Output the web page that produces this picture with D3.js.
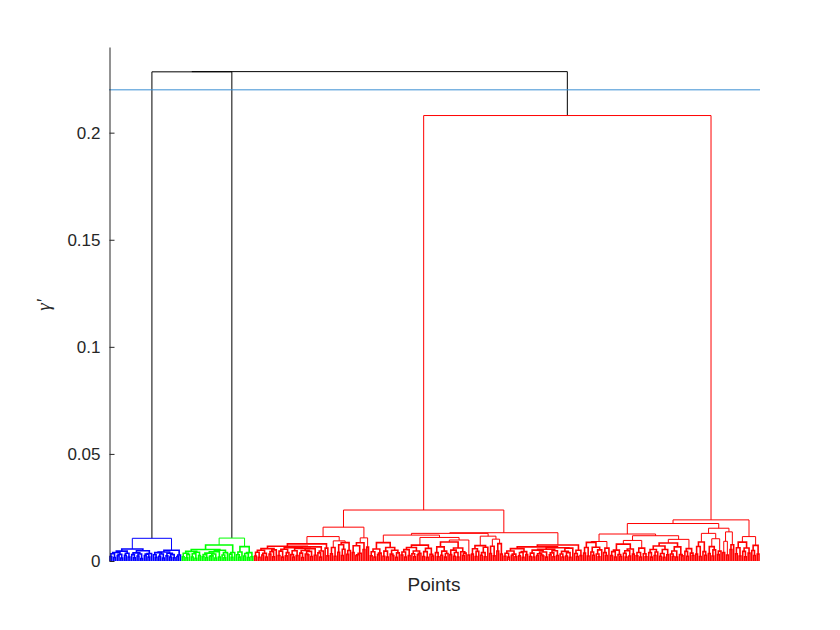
<!DOCTYPE html>
<html>
<head>
<meta charset="utf-8">
<script src="https://cdn.jsdelivr.net/npm/d3@7"></script>
<style>
  html, body { margin: 0; padding: 0; background: #fff; }
  svg { display: block; }
  text { font-family: "Liberation Sans", Arial, Helvetica, sans-serif; fill: #262626; }
</style>
</head>
<body>
<svg id="chart" width="840" height="630"></svg>
<script>
// ---- DATA: merge heights between adjacent leaves (leaf order), in units of 0.001 ----
const blueGaps = [2.1,3.4,1.6,4.0,2.5,3.1,1.4,4.6,2.7,3.6,1.9,5.6,3.0,1.5,3.8,2.3,3.3,1.2,4.8,2.6,3.2,1.8,3.5,
  10.6,
  2.9,1.7,3.9,2.2,3.3,1.4,4.2,2.4,3.6,1.9,3.0,1.5,5.0,2.1,2.8];
const greenGaps = [2.0,3.6,1.5,3.1,4.5,1.9,3.4,1.3,4.1,2.6,5.4,2.0,3.0,1.6,3.7,2.2,2.4,3.3,1.4,4.3,1.9,5.0,2.8,1.5,3.9,7.5,3.2,1.7,4.0,
  10.7,
  2.9,1.8,4.2,6.7,2.3,3.5,1.6,3.9,2.0];
const redLeftGaps = [
  2.3,4.1,1.7,5.0,2.8,3.6,1.9,5.8,3.2,4.4,2.0,5.2,6.9,2.6,4.6,1.8,5.5,2.4,3.9,6.2,3.0,1.9,4.8,2.5,5.9,3.7,1.6,4.9,3.3,2.9,4.5,2.1,5.7,2.7,6.6,3.8,1.8,4.7,8.0,6.0,2.4,
  11.4,
  3.4,6.3,2.2,9.4,4.1,7.6,2.6,5.5,8.6,3.1,4.9,
  15.8,
  4.0,7.1,2.5,2.9,3.6,8.5,5.4,10.8,6.5,
  23.8,
  2.4,4.3,1.8,5.6,3.0,3.7,8.6,2.2,4.6,1.9,6.3,3.2,2.5,5.0,1.7,3.8,
  12.1,
  2.8,4.2,1.9,5.3,2.5,6.3,3.4,2.0,4.7,2.9,3.6,7.4,2.1,4.4,1.7,5.9,3.1,2.3,11.0,3.9,2.0,6.6,2.7,4.6,1.8,3.5,8.9,3.0,5.1,2.2,4.0,1.9,6.1,4.3,2.6,3.7,9.8,2.8,
  12.9,
  3.2,5.7,2.1,4.5,7.2,2.7,3.9,2.0,6.4,11.6,3.5,6.9,2.4,10.2,4.7,8.1,3.3,
  13.2,
  2.2,3.6,1.8,4.7,2.7,3.2,2.0,5.8,2.4,4.0,1.7,4.4,3.0,6.6,2.1,3.7,1.9,5.1,2.6,3.4,2.8,2.3,4.2,1.8,5.5,2.9,3.8,2.0,4.8,2.6,6.2,3.3,1.9,4.5,2.3,3.9,1.7,6.0,7.5,3.5,2.1,5.0,2.5];
const redRightGaps = [
  3.7,6.3,2.3,8.7,4.2,2.7,6.4,3.3,2.0,5.2,9.1,3.9,2.6,6.0,
  12.6,
  2.5,4.4,1.9,5.1,3.0,2.1,7.9,3.6,1.8,4.8,2.3,5.6,3.2,9.6,2.4,4.0,1.9,6.0,3.4,2.0,
  11.8,
  3.9,1.8,5.4,2.6,4.2,7.0,2.2,3.5,1.7,5.4,2.9,8.4,3.3,2.1,4.7,1.9,6.6,3.0,2.4,10.1,4.5,2.2,5.8,3.7,2.6,
  17.5,
  3.2,6.8,2.1,8.9,4.4,2.7,12.9,3.5,6.7,2.3,5.2,10.4,3.0,4.6,
  15.3,
  4.0,9.2,2.8,13.6,5.4,7.6,
  19.2,
  3.4,6.2,2.3,8.8,4.5,2.0,6.1,3.7,11.4,4.9,2.6,7.3,3.2];
const joinGaps = [228.4, 228.5, 208.0]; // blue|green, green|red, redLeft|redRight
const clusterColors = ["#0000ff", "#00ff00", "#ff0000"];
const cutoff = 0.22;
const yTicks = [0, 0.05, 0.1, 0.15, 0.2];
const yLabel = "γ'";
const xLabel = "Points";

// ---- BUILD TREE (split each range at its largest adjacent merge height) ----
const gaps = [].concat(blueGaps, [joinGaps[0]], greenGaps, [joinGaps[1]], redLeftGaps, [joinGaps[2]], redRightGaps)
  .map(v => v * 0.001);
const nLeaves = gaps.length + 1;

function build(lo, hi) {
  if (lo === hi) return { leaf: true, index: lo, h: 0 };
  let k = lo;
  for (let i = lo; i < hi; i++) if (gaps[i] > gaps[k]) k = i;
  return { leaf: false, h: gaps[k], left: build(lo, k), right: build(k + 1, hi) };
}
const root = build(0, nLeaves - 1);

// ---- SCALES ----
const svg = d3.select("#chart");
const x = d3.scaleLinear().domain([0, nLeaves - 1]).range([110, 759]);
const y = d3.scaleLinear().domain([0, 0.24]).range([561, 47]);

function place(node) {
  if (node.leaf) { node.x = x(node.index); return; }
  place(node.left); place(node.right);
  node.x = (node.left.x + node.right.x) / 2;
}
place(root);

let clusterIdx = 0;
function setColor(node, c) {
  node.color = c;
  if (!node.leaf) { setColor(node.left, c); setColor(node.right, c); }
}
function colorize(node) {
  if (node.h < cutoff) { setColor(node, clusterColors[clusterIdx++ % clusterColors.length]); return; }
  node.color = "#000000";
  if (!node.leaf) { colorize(node.left); colorize(node.right); }
}
colorize(root);

const links = [];
(function collect(node) {
  if (node.leaf) return;
  links.push(node);
  collect(node.left); collect(node.right);
})(root);

svg.append("g").selectAll("path.link")
  .data(links)
  .join("path")
  .attr("class", "link")
  .attr("fill", "none")
  .attr("stroke", d => d.color)
  .attr("stroke-width", d => d.h < 0.009 ? 1.6 : 1)
  .attr("d", d => `M${d.left.x},${y(d.left.h)}V${y(d.h)}H${d.right.x}V${y(d.right.h)}`);

// cutoff line
svg.append("line")
  .attr("x1", 109).attr("x2", 760)
  .attr("y1", y(cutoff)).attr("y2", y(cutoff))
  .attr("stroke", "#3a8ed3").attr("stroke-width", 1);

// y axis
const yAxis = d3.axisLeft(y).tickValues(yTicks).tickFormat(d => String(d))
  .tickSizeInner(-5).tickSizeOuter(0).tickPadding(9);
const ya = svg.append("g").attr("transform", "translate(109.5,0)").call(yAxis);
ya.select(".domain").attr("stroke", "#262626");
ya.selectAll(".tick line").attr("stroke", "#262626");
ya.selectAll(".tick text").attr("font-size", 17).attr("fill", "#262626")
  .style("font-family", "'Liberation Sans', Arial, sans-serif");

// labels
svg.append("text")
  .attr("transform", "translate(50,305) rotate(-90)")
  .attr("text-anchor", "middle")
  .attr("font-size", 19)
  .style("font-family", "'Liberation Serif', serif")
  .style("font-style", "italic")
  .text(yLabel);
svg.append("text")
  .attr("x", 434).attr("y", 591)
  .attr("text-anchor", "middle")
  .attr("font-size", 19)
  .text(xLabel);
</script>
</body>
</html>
